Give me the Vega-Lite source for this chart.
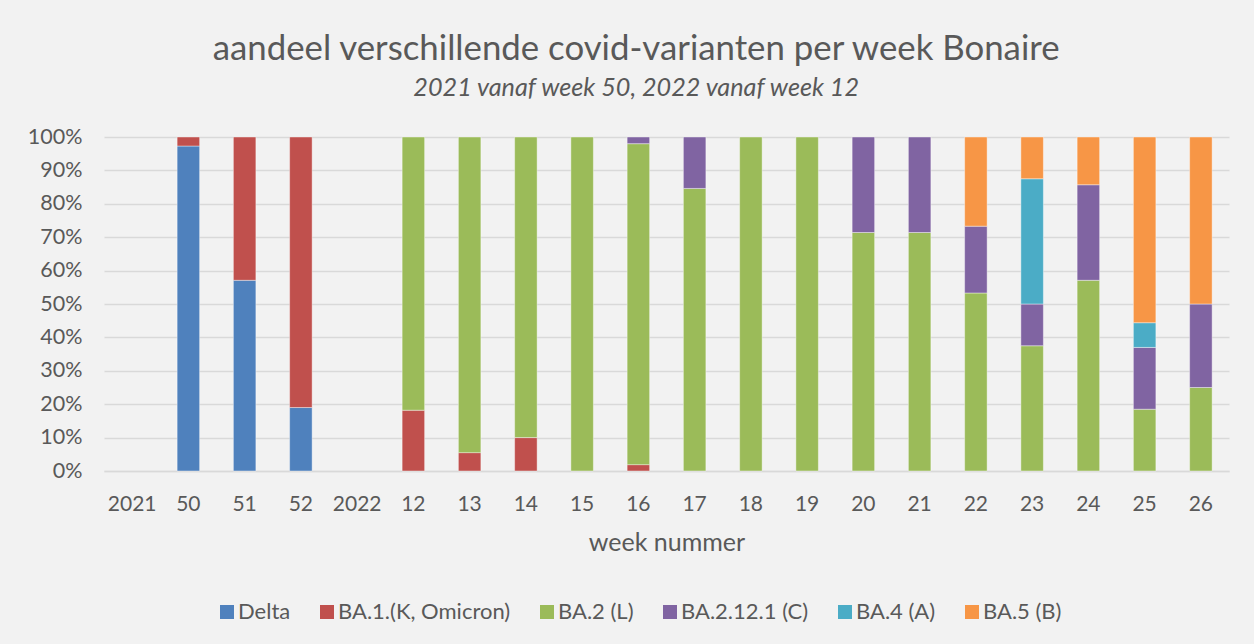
{
  "$schema": "https://vega.github.io/schema/vega-lite/v6.json",
  "width": 1125,
  "height": 334,
  "autosize": {"type": "none"},
  "padding": {"left": 104, "top": 137, "right": 25, "bottom": 173},
  "background": "#f2f2f2",
  "title": {
    "text": "aandeel verschillende covid-varianten per week Bonaire",
    "subtitle": "2021 vanaf week 50, 2022 vanaf week 12",
    "fontSize": 34.8,
    "fontWeight": "normal",
    "color": "#595959",
    "subtitleFontSize": 25.2,
    "subtitleFontStyle": "italic",
    "subtitleColor": "#595959",
    "subtitlePadding": 8,
    "anchor": "middle",
    "frame": "bounds",
    "offset": 24,
    "dx": 8
  },
  "data": {
    "values": [
      {"week": "50", "variant": "Delta", "pct": 97.3},
      {"week": "50", "variant": "BA.1.(K, Omicron)", "pct": 2.7},
      {"week": "51", "variant": "Delta", "pct": 57.1},
      {"week": "51", "variant": "BA.1.(K, Omicron)", "pct": 42.9},
      {"week": "52", "variant": "Delta", "pct": 19.0},
      {"week": "52", "variant": "BA.1.(K, Omicron)", "pct": 81.0},
      {"week": "12", "variant": "BA.1.(K, Omicron)", "pct": 18.2},
      {"week": "12", "variant": "BA.2 (L)", "pct": 81.8},
      {"week": "13", "variant": "BA.1.(K, Omicron)", "pct": 5.5},
      {"week": "13", "variant": "BA.2 (L)", "pct": 94.5},
      {"week": "14", "variant": "BA.1.(K, Omicron)", "pct": 10.0},
      {"week": "14", "variant": "BA.2 (L)", "pct": 90.0},
      {"week": "15", "variant": "BA.2 (L)", "pct": 100},
      {"week": "16", "variant": "BA.1.(K, Omicron)", "pct": 1.9},
      {"week": "16", "variant": "BA.2 (L)", "pct": 96.1},
      {"week": "16", "variant": "BA.2.12.1 (C)", "pct": 2.0},
      {"week": "17", "variant": "BA.2 (L)", "pct": 84.6},
      {"week": "17", "variant": "BA.2.12.1 (C)", "pct": 15.4},
      {"week": "18", "variant": "BA.2 (L)", "pct": 100},
      {"week": "19", "variant": "BA.2 (L)", "pct": 100},
      {"week": "20", "variant": "BA.2 (L)", "pct": 71.4},
      {"week": "20", "variant": "BA.2.12.1 (C)", "pct": 28.6},
      {"week": "21", "variant": "BA.2 (L)", "pct": 71.4},
      {"week": "21", "variant": "BA.2.12.1 (C)", "pct": 28.6},
      {"week": "22", "variant": "BA.2 (L)", "pct": 53.3},
      {"week": "22", "variant": "BA.2.12.1 (C)", "pct": 20.0},
      {"week": "22", "variant": "BA.5 (B)", "pct": 26.7},
      {"week": "23", "variant": "BA.2 (L)", "pct": 37.5},
      {"week": "23", "variant": "BA.2.12.1 (C)", "pct": 12.5},
      {"week": "23", "variant": "BA.4 (A)", "pct": 37.5},
      {"week": "23", "variant": "BA.5 (B)", "pct": 12.5},
      {"week": "24", "variant": "BA.2 (L)", "pct": 57.1},
      {"week": "24", "variant": "BA.2.12.1 (C)", "pct": 28.6},
      {"week": "24", "variant": "BA.5 (B)", "pct": 14.3},
      {"week": "25", "variant": "BA.2 (L)", "pct": 18.5},
      {"week": "25", "variant": "BA.2.12.1 (C)", "pct": 18.5},
      {"week": "25", "variant": "BA.4 (A)", "pct": 7.4},
      {"week": "25", "variant": "BA.5 (B)", "pct": 55.6},
      {"week": "26", "variant": "BA.2 (L)", "pct": 25.0},
      {"week": "26", "variant": "BA.2.12.1 (C)", "pct": 25.0},
      {"week": "26", "variant": "BA.5 (B)", "pct": 50.0}
    ]
  },
  "transform": [
    {"calculate": "indexof(['Delta', 'BA.1.(K, Omicron)', 'BA.2 (L)', 'BA.2.12.1 (C)', 'BA.4 (A)', 'BA.5 (B)'], datum.variant)", "as": "stackOrder"}
  ],
  "mark": {"type": "bar", "stroke": "white", "strokeOpacity": 0.4, "strokeWidth": 1},
  "encoding": {
    "x": {
      "field": "week",
      "type": "nominal",
      "sort": null,
      "scale": {
        "domain": ["2021", "50", "51", "52", "2022", "12", "13", "14", "15", "16", "17", "18", "19", "20", "21", "22", "23", "24", "25", "26"],
        "paddingInner": 0.6,
        "paddingOuter": 0.3
      },
      "axis": {
        "title": "week nummer",
        "labelAngle": 0,
        "ticks": false,
        "domain": true,
        "domainColor": "#d9d9d9",
        "domainWidth": 1.5,
        "labelPadding": 22,
        "labelFontSize": 21,
        "labelColor": "#595959",
        "titleFontSize": 25,
        "titleFontWeight": "normal",
        "titleColor": "#595959",
        "titlePadding": 16
      }
    },
    "y": {
      "field": "pct",
      "type": "quantitative",
      "stack": "normalize",
      "scale": {"domain": [0, 1]},
      "axis": {
        "title": null,
        "values": [0, 0.1, 0.2, 0.3, 0.4, 0.5, 0.6, 0.7, 0.8, 0.9, 1],
        "format": ".0%",
        "ticks": false,
        "domain": false,
        "grid": true,
        "gridColor": "#d9d9d9",
        "gridWidth": 1.5,
        "labelPadding": 22,
        "labelFontSize": 21.5,
        "labelColor": "#595959"
      }
    },
    "order": {"field": "stackOrder", "type": "quantitative", "sort": "ascending"},
    "color": {
      "field": "variant",
      "type": "nominal",
      "sort": ["Delta", "BA.1.(K, Omicron)", "BA.2 (L)", "BA.2.12.1 (C)", "BA.4 (A)", "BA.5 (B)"],
      "scale": {
        "domain": ["Delta", "BA.1.(K, Omicron)", "BA.2 (L)", "BA.2.12.1 (C)", "BA.4 (A)", "BA.5 (B)"],
        "range": ["#4f81bd", "#c0504d", "#9bbb59", "#8064a2", "#4bacc6", "#f79646"]
      },
      "legend": {
        "title": null,
        "orient": "none",
        "legendX": 112,
        "legendY": 464,
        "direction": "horizontal",
        "symbolType": "square",
        "symbolSize": 196,
        "symbolStrokeWidth": 0,
        "labelFontSize": 22,
        "labelLimit": 400,
        "labelColor": "#595959",
        "labelOffset": 0,
        "columnPadding": 25
      }
    }
  },
  "config": {
    "font": "Lato",
    "view": {"stroke": null}
  }
}
